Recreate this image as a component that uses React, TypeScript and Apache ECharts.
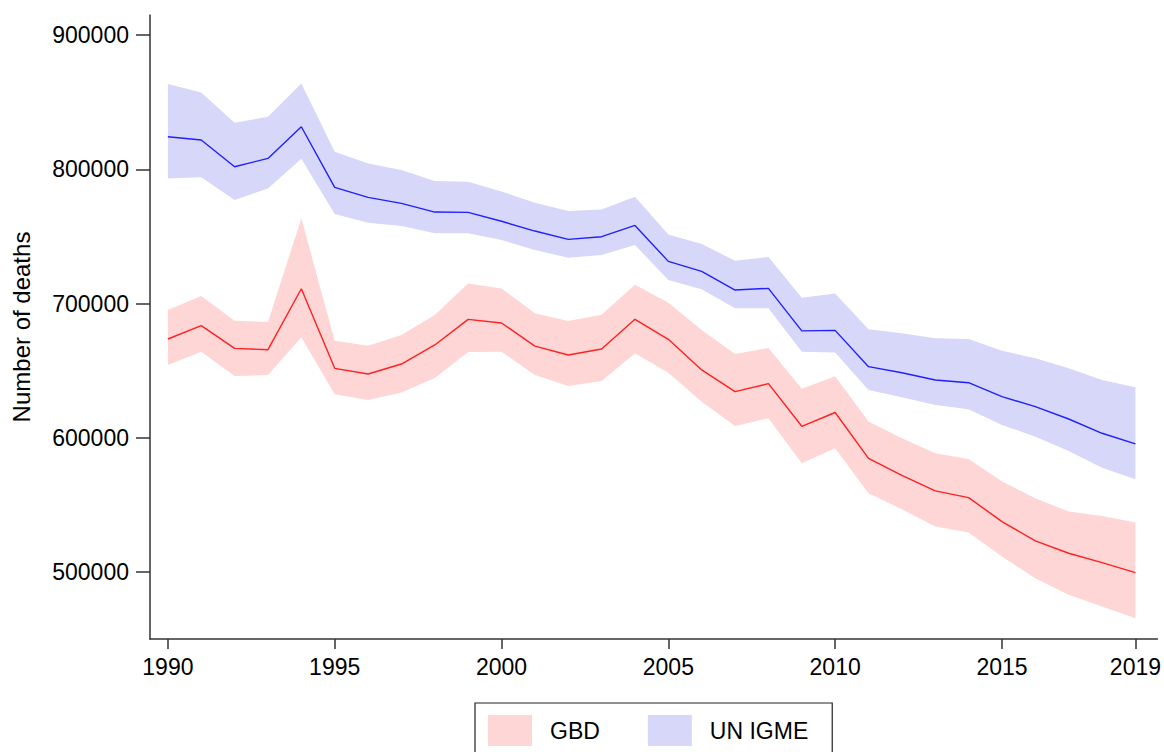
import React, { useEffect, useRef } from "react";
import * as echarts from "echarts";

const years = [1990, 1991, 1992, 1993, 1994, 1995, 1996, 1997, 1998, 1999, 2000, 2001, 2002, 2003, 2004, 2005, 2006, 2007, 2008, 2009, 2010, 2011, 2012, 2013, 2014, 2015, 2016, 2017, 2018, 2019];

const gbdMean = [673550, 683500, 666600, 665600, 711000, 651700, 647500, 654900, 669100, 688200, 685500, 668300, 661600, 666100, 688200, 673300, 650500, 634300, 640300, 608500, 618800, 584650, 572000, 560350, 555350, 537500, 523100, 513900, 506950, 499500];
const gbdUpper = [695150, 705600, 687200, 686200, 763450, 672300, 668600, 676500, 691400, 715000, 711200, 692700, 686950, 691700, 714000, 700600, 680250, 662400, 666850, 636500, 645800, 612000, 599550, 588400, 584150, 567300, 554850, 544950, 541700, 536750];
const gbdLower = [654200, 664100, 646000, 646700, 674800, 632300, 628100, 633600, 644500, 663900, 664100, 646700, 638550, 642300, 662900, 648450, 626850, 608750, 614450, 580950, 592100, 558600, 546700, 533750, 529300, 511400, 495300, 482900, 474200, 465500];

const igmeMean = [824250, 821800, 801900, 808150, 831700, 786550, 779100, 774600, 768150, 767900, 761300, 754000, 747800, 749800, 758200, 731400, 724000, 710050, 711300, 679600, 680000, 652950, 648450, 643000, 641000, 630600, 623150, 613950, 603300, 595350];
const igmeUpper = [863500, 857300, 834700, 839150, 864000, 813100, 804400, 799450, 791250, 790700, 783500, 775100, 768900, 770150, 779550, 751500, 744300, 731900, 734600, 704300, 707400, 680800, 677800, 674050, 673550, 664850, 659150, 651700, 643000, 637550];
const igmeLower = [793250, 794000, 777100, 785800, 807900, 766700, 760200, 757700, 752300, 752300, 747300, 739850, 734150, 736100, 743600, 717500, 710550, 696400, 696400, 664100, 663500, 635550, 630100, 624400, 621150, 609500, 600800, 590100, 577700, 569000];

const yTicks = [500000, 600000, 700000, 800000, 900000];
const xTicks = [1990, 1995, 2000, 2005, 2010, 2015, 2019];

const FONT = "'Liberation Sans', Arial, Helvetica, sans-serif";
const RED_BAND = "#ffd6d6";
const BLUE_BAND = "#d7d7fa";
const RED_LINE = "#ff2020";
const BLUE_LINE = "#2020ff";
const AXIS = "#333333";

function pairs(vals: number[]) {
  return years.map((y, i) => [y, vals[i]]);
}

function bandSeries(name: string, lower: number[], upper: number[], color: string) {
  return {
    type: "custom",
    name,
    color,
    itemStyle: { color },
    silent: true,
    z: 2,
    encode: { x: 0, y: [1, 2] },
    data: years.map((y, i) => [y, lower[i], upper[i]]),
    renderItem: (params: any, api: any) => {
      if (params.dataIndex !== 0) return null;
      const top = years.map((y, i) => api.coord([y, upper[i]]));
      const bottom = years.map((y, i) => api.coord([y, lower[i]])).reverse();
      return {
        type: "polygon",
        shape: { points: top.concat(bottom) },
        style: { fill: color, stroke: "none" },
      };
    },
  };
}

export default function App() {
  const ref = useRef<HTMLDivElement>(null);
  useEffect(() => {
    if (!ref.current) return;
    const chart = echarts.init(ref.current, undefined, { renderer: "svg" });
    chart.setOption({
      animation: false,
      backgroundColor: "#ffffff",
      textStyle: { fontFamily: FONT },
      grid: { left: 150, right: 0, top: 15, bottom: 113, containLabel: false },
      legend: {
        left: 475,
        top: 703,
        orient: "horizontal",
        padding: [12, 24, 12, 13],
        itemGap: 48,
        itemWidth: 44,
        itemHeight: 31,
        borderColor: "#222",
        borderWidth: 1.2,
        borderRadius: 0,
        icon: "rect",
        textStyle: { fontSize: 23, color: "#000", fontFamily: FONT, padding: [0, 0, 0, 13] },
        itemStyle: { borderWidth: 0 },
        data: [
          { name: "GBD", icon: "rect", itemStyle: { color: RED_BAND } },
          { name: "UN IGME", icon: "rect", itemStyle: { color: BLUE_BAND } },
        ],
      },
      xAxis: {
        type: "value",
        min: 1989.464,
        max: 2019.66,
        z: 10,
        splitLine: { show: false },
        axisLine: { show: true, lineStyle: { color: AXIS, width: 1.5 } },
        axisTick: { show: true, length: 10, lineStyle: { color: AXIS, width: 1.5 }, customValues: xTicks },
        axisLabel: {
          fontSize: 23,
          color: "#000",
          fontFamily: FONT,
          margin: 16,
          customValues: xTicks,
          formatter: (v: number) => String(v),
        },
      },
      yAxis: {
        type: "value",
        min: 450000,
        max: 915000,
        z: 10,
        splitLine: { show: false },
        axisLine: { show: true, lineStyle: { color: AXIS, width: 1.5 } },
        axisTick: { show: true, length: 14, lineStyle: { color: AXIS, width: 1.5 }, customValues: yTicks },
        axisLabel: {
          fontSize: 23,
          color: "#000",
          fontFamily: FONT,
          margin: 21,
          customValues: yTicks,
          formatter: (v: number) => String(v),
        },
        name: "Number of deaths",
        nameLocation: "middle",
        nameGap: 117,
        nameTextStyle: { fontSize: 24, color: "#000", fontFamily: FONT },
      },
      series: [
        bandSeries("UN IGME", igmeLower, igmeUpper, BLUE_BAND),
        bandSeries("GBD", gbdLower, gbdUpper, RED_BAND),
        {
          type: "line",
          name: "GBD mean",
          data: pairs(gbdMean),
          symbol: "none",
          lineStyle: { color: RED_LINE, width: 1.4 },
          itemStyle: { color: RED_LINE },
          z: 3,
        },
        {
          type: "line",
          name: "UN IGME mean",
          data: pairs(igmeMean),
          symbol: "none",
          lineStyle: { color: BLUE_LINE, width: 1.4 },
          itemStyle: { color: BLUE_LINE },
          z: 3,
        },
      ],
    });
    return () => chart.dispose();
  }, []);
  return (
    <div
      ref={ref}
      style={{ position: "fixed", left: 0, top: 0, width: 1164, height: 752, background: "#fff" }}
    />
  );
}
